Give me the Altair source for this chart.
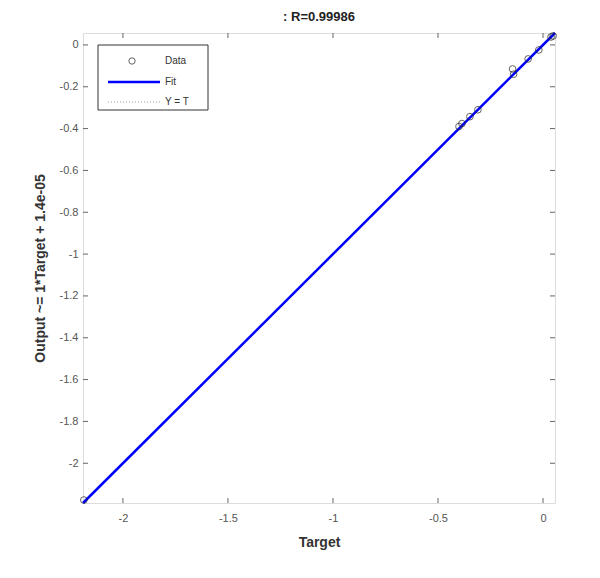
import altair as alt
import pandas as pd

# ---- data ----
target = [-2.186, -0.400, -0.386, -0.348, -0.310, -0.145, -0.140, -0.071, -0.020, 0.038, 0.048]
output = [-2.176, -0.390, -0.376, -0.343, -0.310, -0.115, -0.140, -0.067, -0.024, 0.038, 0.043]
axis_lim = [-2.19, 0.057]
fit_slope = 1.0
fit_intercept = 1.4e-05
x_ticks = [-2, -1.5, -1, -0.5, 0]
y_ticks = [-2, -1.8, -1.6, -1.4, -1.2, -1, -0.8, -0.6, -0.4, -0.2, 0]
title_text = ": R=0.99986"
x_title = "Target"
y_title = "Output ~= 1*Target + 1.4e-05"
legend_labels = ["Data", "Fit", "Y = T"]

W, H = 472, 470
FONT = "Liberation Sans"

pts = pd.DataFrame({"x": target, "y": output})
lines = pd.DataFrame({"x": axis_lim,
                      "fit": [fit_slope * v + fit_intercept for v in axis_lim],
                      "yt": axis_lim})

xs = alt.Scale(domain=axis_lim, nice=False, zero=False)
ys = alt.Scale(domain=axis_lim, nice=False, zero=False)

xaxis = alt.Axis(values=x_ticks, labelExpr="'' + datum.value", title=x_title,
                 grid=False, ticks=False, domain=False, labelPadding=9,
                 labelFontSize=11, labelColor="#555555", labelFont=FONT,
                 titleFont=FONT, titleFontSize=14, titleFontWeight="bold",
                 titleColor="#333333", titlePadding=12)
yaxis = alt.Axis(values=y_ticks, labelExpr="'' + datum.value", title=y_title,
                 grid=False, ticks=False, domain=False, labelPadding=5,
                 labelFontSize=11, labelColor="#555555", labelFont=FONT,
                 titleFont=FONT, titleFontSize=14, titleFontWeight="bold",
                 titleColor="#333333", titlePadding=12)

yt_line = alt.Chart(lines).mark_line(color="#888888", strokeDash=[1, 2], strokeWidth=1).encode(
    x=alt.X("x:Q", scale=xs, axis=xaxis), y=alt.Y("yt:Q", scale=ys, axis=yaxis))
fit_line = alt.Chart(lines).mark_line(color="#0000ff", strokeWidth=2.5).encode(
    x=alt.X("x:Q", scale=xs), y=alt.Y("fit:Q", scale=ys))
points = alt.Chart(pts).mark_point(shape="circle", filled=False, color="#222222",
                                   size=45, strokeWidth=1).encode(
    x=alt.X("x:Q", scale=xs), y=alt.Y("y:Q", scale=ys))

# inward tick marks on all four sides
xt = pd.DataFrame({"v": x_ticks})
yt = pd.DataFrame({"v": y_ticks})
tick_style = dict(color="#666666", strokeWidth=1)
xt_bot = alt.Chart(xt).mark_rule(**tick_style).encode(
    x=alt.X("v:Q", scale=xs), y=alt.value(H), y2=alt.value(H - 5))
xt_top = alt.Chart(xt).mark_rule(**tick_style).encode(
    x=alt.X("v:Q", scale=xs), y=alt.value(0), y2=alt.value(5))
yt_left = alt.Chart(yt).mark_rule(**tick_style).encode(
    y=alt.Y("v:Q", scale=ys), x=alt.value(0), x2=alt.value(5))
yt_right = alt.Chart(yt).mark_rule(**tick_style).encode(
    y=alt.Y("v:Q", scale=ys), x=alt.value(W), x2=alt.value(W - 5))

# legend box
one = pd.DataFrame({"a": [0]})
lx0, ly0 = 15, 12
row_y = [ly0 + 16, ly0 + 37, ly0 + 57]
box = alt.Chart(one).mark_rect(
    fill="white", stroke="#333333", strokeWidth=1).encode(
    x=alt.value(lx0), x2=alt.value(lx0 + 110), y=alt.value(ly0), y2=alt.value(ly0 + 65))
lg_pt = alt.Chart(one).mark_point(
    shape="circle", filled=False, color="#222222", size=40, strokeWidth=1).encode(
    x=alt.value(lx0 + 34), y=alt.value(row_y[0]))
lg_fit = alt.Chart(one).mark_rule(color="#0000ff", strokeWidth=2.5).encode(
    x=alt.value(lx0 + 10), x2=alt.value(lx0 + 62), y=alt.value(row_y[1]))
lg_yt = alt.Chart(one).mark_rule(
    color="#999999", strokeDash=[1, 2], strokeWidth=1).encode(
    x=alt.value(lx0 + 10), x2=alt.value(lx0 + 62), y=alt.value(row_y[2]))
lg_txt = [
    alt.Chart(one).mark_text(align="left", baseline="middle", font=FONT, fontSize=10,
                             color="#333333", text=lab).encode(
        x=alt.value(lx0 + 67), y=alt.value(ry))
    for lab, ry in zip(legend_labels, row_y)
]

chart = alt.layer(yt_line, fit_line, points, xt_bot, xt_top, yt_left, yt_right,
                  box, lg_pt, lg_fit, lg_yt, *lg_txt).properties(
    width=W, height=H,
    title=alt.TitleParams(title_text, font=FONT, fontSize=13, fontWeight="bold",
                          color="#222222", anchor="middle", offset=4),
    autosize=alt.AutoSizeParams(type="none"),
    padding={"left": 75, "top": 25, "right": 37, "bottom": 67},
).configure_view(stroke="#808080", strokeWidth=1).configure(background="white")

chart.save("out.html", embed_options={"renderer": "svg", "actions": False})
